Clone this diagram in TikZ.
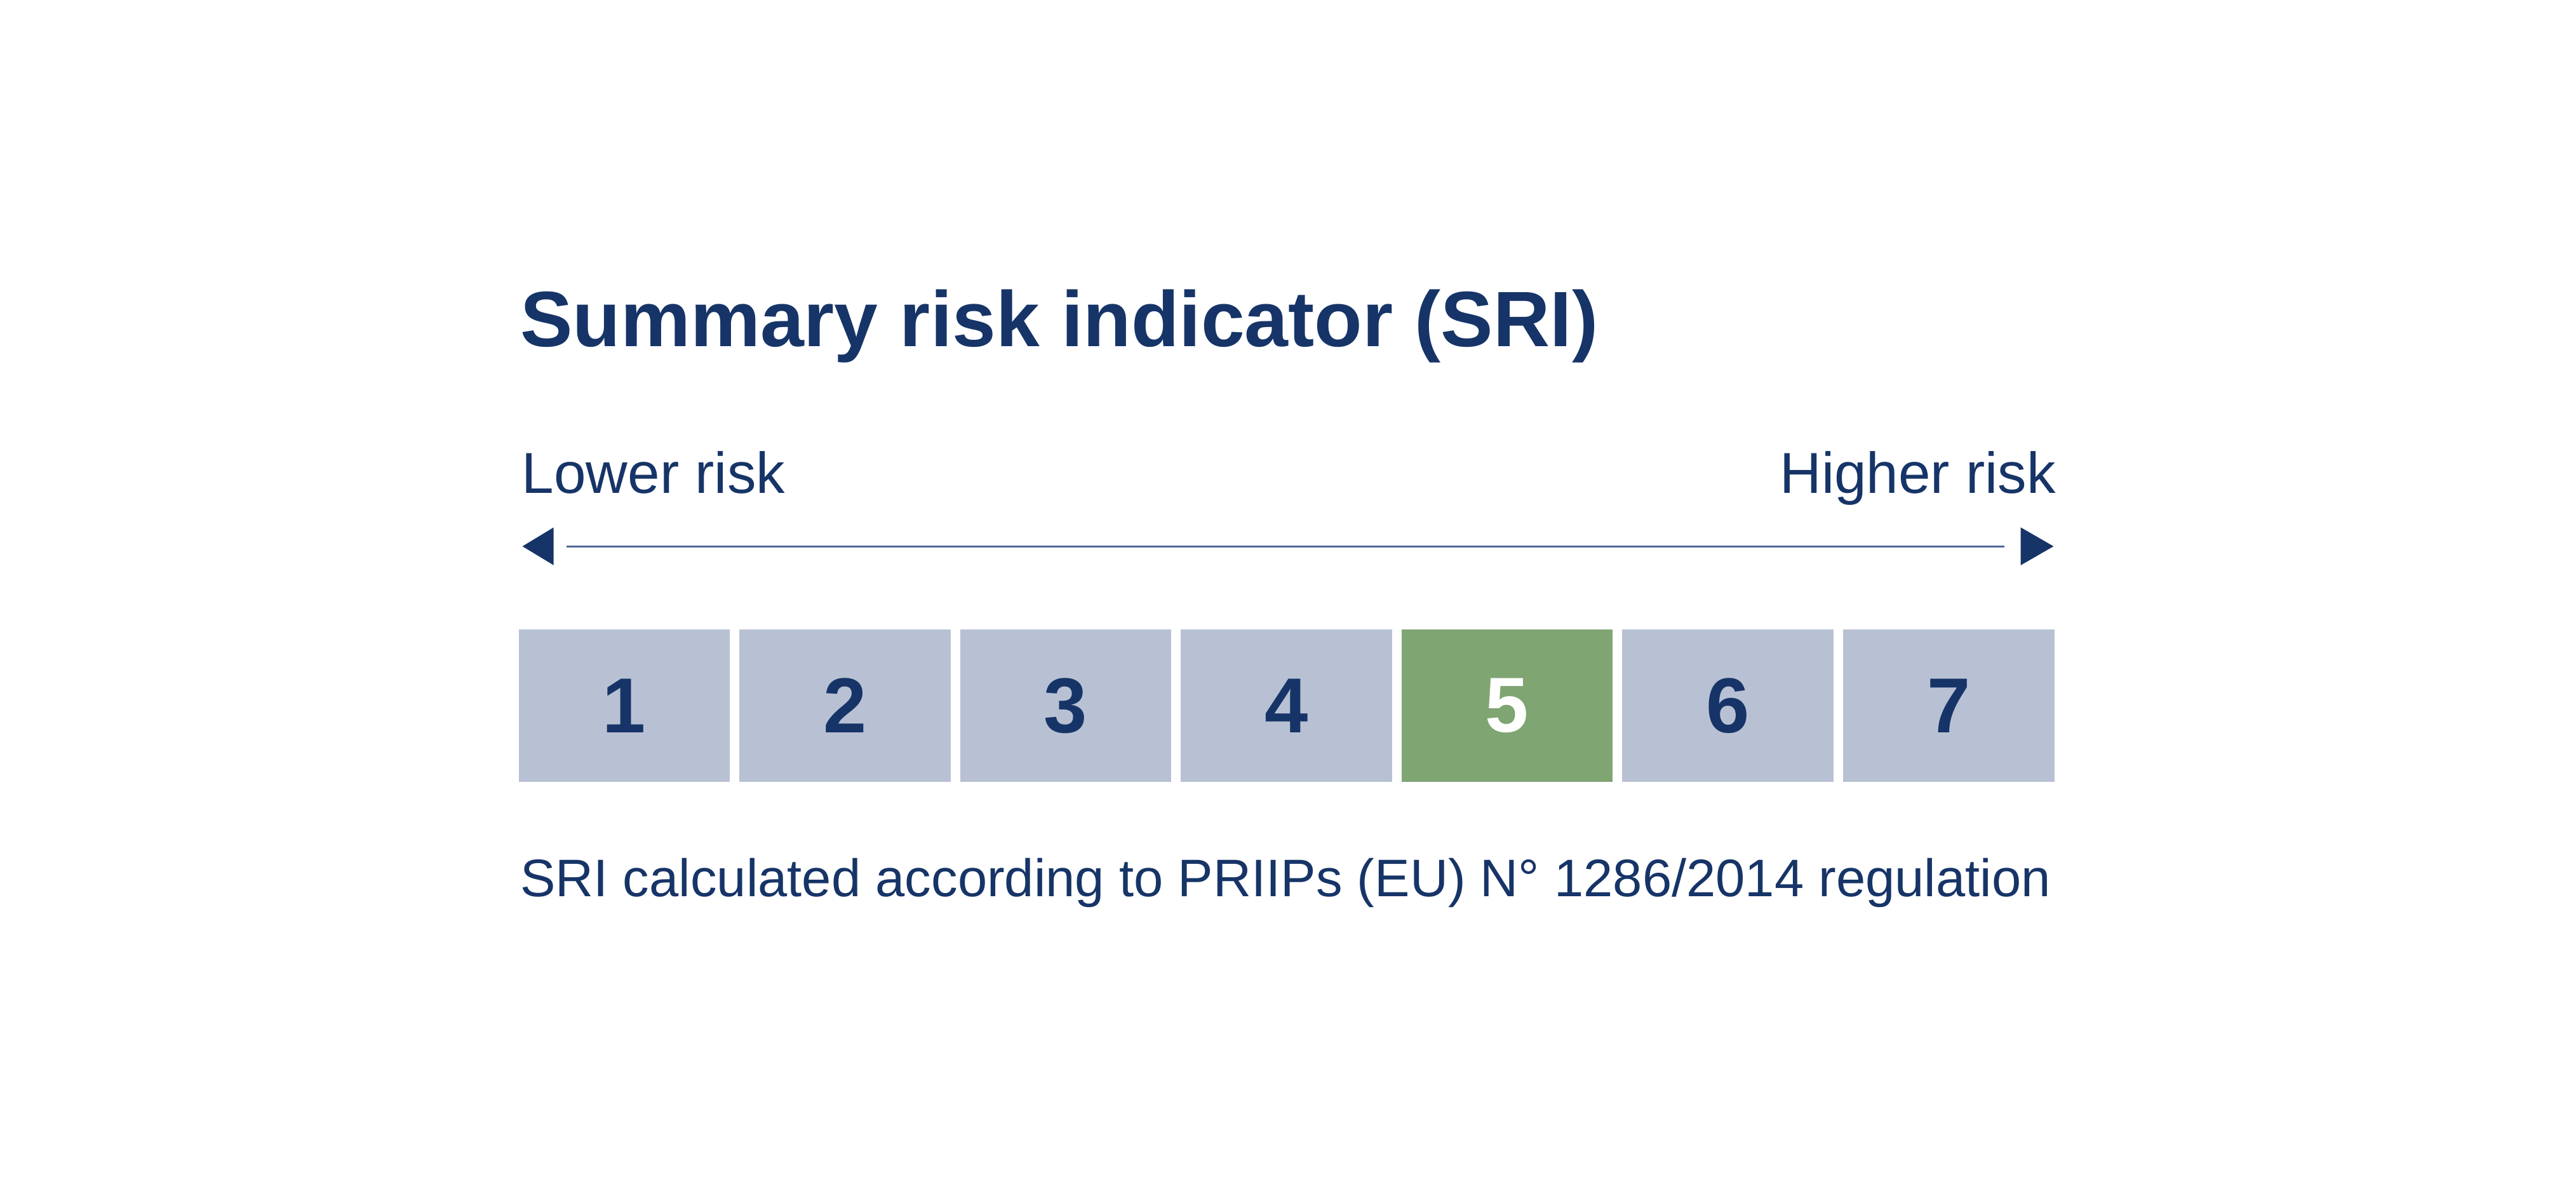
\documentclass[tikz,border=0pt]{standalone}
\usepackage{fontspec}
\setmainfont{Liberation Sans}
\definecolor{navy}{HTML}{163467}
\definecolor{rule}{HTML}{4D6795}
\definecolor{boxgray}{HTML}{B8C1D3}
\definecolor{boxgreen}{HTML}{7FA572}
\tikzset{
  label/.style={inner sep=0pt,text=navy},
  riskbox/.style={minimum width=1.286cm,minimum height=0.93cm,inner sep=0pt,
    font=\bfseries\fontsize{13.5}{16}\selectfont}
}
\begin{document}
\begin{tikzpicture}
\useasboundingbox (0,0) rectangle (15.68,7.32);
\node[label,anchor=base west,font=\bfseries\fontsize{13.6}{16}\selectfont] (title) at (3.16,5.21) {Summary risk indicator (SRI)};
\node[label,anchor=base west,font=\fontsize{10}{12}\selectfont] (lower) at (3.17,4.32) {Lower risk};
\node[label,anchor=base east,font=\fontsize{10}{12}\selectfont] (higher) at (12.52,4.32) {Higher risk};
% scale arrow
\coordinate (lotip) at (3.18,3.995);
\coordinate (hitip) at (12.50,3.995);
\coordinate (lo) at (3.45,3.995);
\coordinate (hi) at (12.20,3.995);
\draw[rule,line width=0.35pt] (lo) -- (hi);
\fill[navy] (lotip) -- ++(0.19,0.115) -- ++(0,-0.23) -- cycle;
\fill[navy] (hitip) -- ++(-0.20,0.115) -- ++(0,-0.23) -- cycle;
% risk classes
\foreach \i/\c/\t in {1/boxgray/navy,2/boxgray/navy,3/boxgray/navy,4/boxgray/navy,5/boxgreen/white,6/boxgray/navy,7/boxgray/navy}
	\node[riskbox,fill=\c,text=\t] (b\i) at ({3.800+(\i-1)*1.3435},3.025) {\i};
\node[label,anchor=base west,font=\fontsize{9.15}{11}\selectfont] (note) at (3.16,1.865) {SRI calculated according to PRIIPs (EU) N° 1286/2014 regulation};
\end{tikzpicture}
\end{document}
